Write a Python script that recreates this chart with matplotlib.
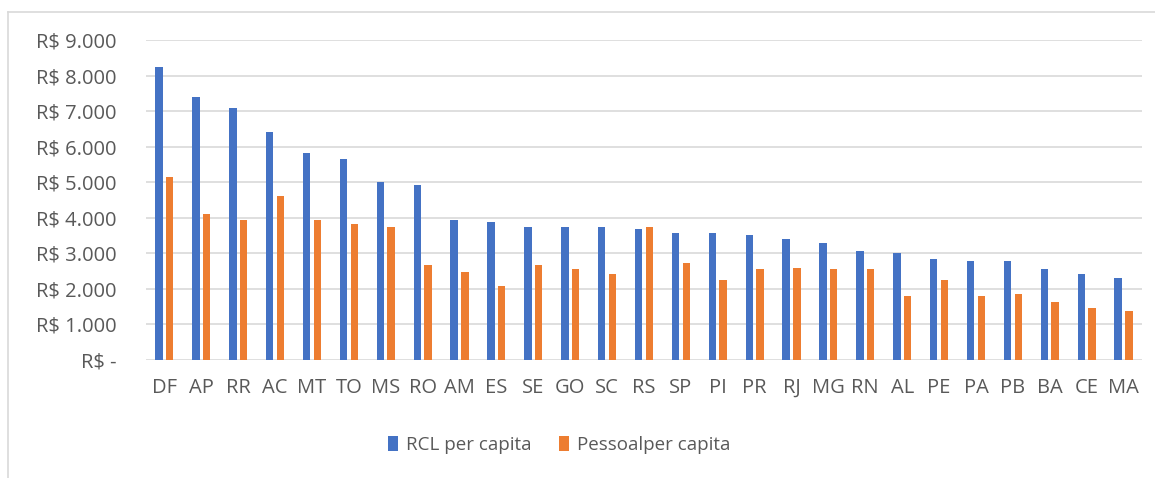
import matplotlib
matplotlib.use('Agg')
import matplotlib.pyplot as plt
from matplotlib.lines import Line2D
import numpy as np

states = ["DF", "AP", "RR", "AC", "MT", "TO", "MS", "RO", "AM", "ES", "SE", "GO", "SC",
          "RS", "SP", "PI", "PR", "RJ", "MG", "RN", "AL", "PE", "PA", "PB", "BA", "CE", "MA"]
rcl = [8250, 7390, 7100, 6400, 5830, 5660, 5020, 4910, 3940, 3870, 3750, 3750, 3750,
       3690, 3580, 3580, 3520, 3410, 3290, 3070, 3000, 2830, 2780, 2780, 2550, 2430, 2310]
pessoal = [5140, 4100, 3940, 4620, 3940, 3820, 3750, 2660, 2480, 2090, 2660, 2550, 2430,
           3750, 2720, 2250, 2550, 2600, 2550, 2550, 1800, 2260, 1800, 1860, 1630, 1450, 1390]
yticks = [0, 1000, 2000, 3000, 4000, 5000, 6000, 7000, 8000, 9000]

BLUE = "#4472C4"
ORANGE = "#ED7D31"
GRAY_TXT = "#595959"

plt.rcParams['font.family'] = ['Open Sans', 'DejaVu Sans']


def _fmt(v):
    if v == 0:
        return "R$ -"
    return "R$ " + f"{v:,.0f}".replace(",", ".")


fig = plt.figure(figsize=(11.55, 4.78), dpi=100)
ax = fig.add_axes([0.1264, 0.2469, 0.8623, 0.6694])

x = np.arange(len(states))
ax.bar(x - 0.145, rcl, width=0.2, color=BLUE, label="RCL per capita", zorder=3)
ax.bar(x + 0.145, pessoal, width=0.2, color=ORANGE, label="Pessoalper capita", zorder=3)

ax.set_xlim(-0.5, len(states) - 0.5)
ax.set_ylim(0, 9000)
ax.set_yticks(yticks)
ax.set_yticklabels([_fmt(v) for v in yticks])
ax.set_xticks(x)
ax.set_xticklabels(states)
ax.tick_params(axis="y", length=0, pad=21, labelsize=14.5, labelcolor=GRAY_TXT)
ax.tick_params(axis="x", length=0, pad=13, labelsize=14.5, labelcolor=GRAY_TXT)
ax.yaxis.grid(True, color="#d9d9d9", linewidth=1.2, zorder=0)
for s in ax.spines.values():
    s.set_visible(False)

fig.legend(loc="center", bbox_to_anchor=(0.484, 0.069), ncol=2, frameon=False,
           fontsize=13.5, labelcolor=GRAY_TXT, handlelength=0.55, handleheight=0.9,
           handletextpad=0.4, columnspacing=1.5)

# chart border (left + top only visible)
fig.add_artist(Line2D([8 / 1155, 8 / 1155], [0, 1 - 12 / 478], transform=fig.transFigure,
                      color="#d9d9d9", linewidth=1.2))
fig.add_artist(Line2D([8 / 1155, 1], [1 - 12 / 478, 1 - 12 / 478], transform=fig.transFigure,
                      color="#d9d9d9", linewidth=1.2))

fig.savefig("out.png", dpi=100)
